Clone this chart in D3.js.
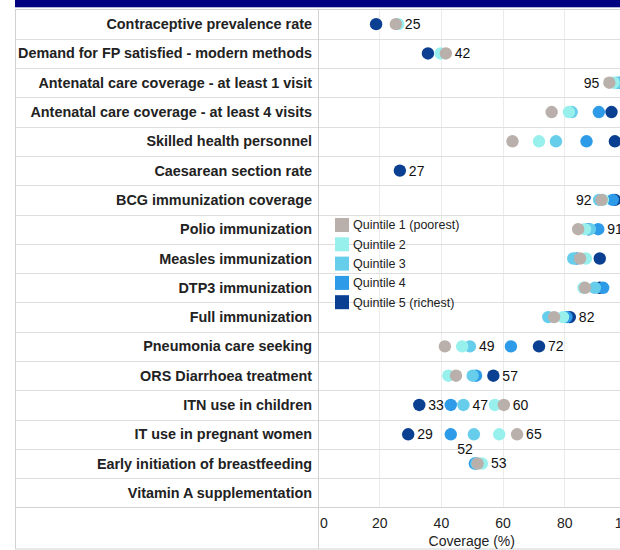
<!DOCTYPE html>
<html>
<head>
<meta charset="utf-8">
<script src="https://cdn.jsdelivr.net/npm/d3@7/dist/d3.min.js"></script>
<style>
html, body { margin: 0; padding: 0; background: #fff; overflow: hidden; }
svg { display: block; font-family: "Liberation Sans", Arial, Helvetica, sans-serif; }
</style>
</head>
<body>
<svg id="chart" width="660" height="550"></svg>
<script>
const indicators = [
  "Contraceptive prevalence rate",
  "Demand for FP satisfied - modern methods",
  "Antenatal care coverage - at least 1 visit",
  "Antenatal care coverage - at least 4 visits",
  "Skilled health personnel",
  "Caesarean section rate",
  "BCG immunization coverage",
  "Polio immunization",
  "Measles immunization",
  "DTP3 immunization",
  "Full immunization",
  "Pneumonia care seeking",
  "ORS Diarrhoea treatment",
  "ITN use in children",
  "IT use in pregnant women",
  "Early initiation of breastfeeding",
  "Vitamin A supplementation"
];
const seriesNames = ["Quintile 1 (poorest)", "Quintile 2", "Quintile 3", "Quintile 4", "Quintile 5 (richest)"];
const q1 = [25.4, 41.6, 94.6, 75.9, 63.2, null, 92.1, 84.5, 85.1, 86.7, 76.7, 41.3, 44.9, 60.4, 64.7, 51.9, null];
const q2 = [26.2, 39.9, 96.0, 81.5, 71.8, null, 92.5, 86.7, 87.0, 86.2, 79.6, 46.9, 42.4, 57.5, 58.9, 53.3, null];
const q3 = [null, null, 97.0, 82.4, 77.3, null, 91.3, 88.3, 82.9, 89.9, 74.8, 49.4, 50.3, 47.3, 50.7, 51.5, null];
const q4 = [null, null, 98.0, 91.2, 87.2, null, 95.7, 91.0, 84.0, 92.6, 80.7, 62.7, 51.4, 43.2, 43.2, 51.0, null];
const q5 = [19.0, 35.8, 99.0, 95.3, 96.4, 26.7, 96.4, 87.8, 91.5, 91.5, 81.8, 71.8, 57.0, 33.0, 29.4, null, null];
const xTicks = [0, 20, 40, 60, 80, 100];
const xTitle = "Coverage (%)";
// data labels: [indicator index, quintile index (0-4), placement]
const dataLabels = [
  [0, 0, "right"], [1, 0, "right"], [2, 0, "left"], [5, 4, "right"], [6, 0, "left"],
  [7, 3, "right"], [10, 4, "right"], [11, 2, "right"], [11, 4, "right"], [12, 4, "right"],
  [13, 4, "right"], [13, 2, "right"], [13, 0, "right"], [14, 4, "right"], [14, 0, "right"],
  [15, 0, "above"], [15, 1, "right"]
];
const colors = ["#bab0ab", "#98f0ed", "#66cdeb", "#2d9be8", "#0b3f92"];
const series = [q1, q2, q3, q4, q5];

const svg = d3.select("#chart");
const L = 15, colX = 318, tableTop = 9.5, rowsBottom = 507.5, tableBottom = 549, rightEdge = 660;

const x = d3.scaleLinear().domain([0, 100]).range([317.5, 626]);
const y = d3.scaleBand().domain(indicators).range([tableTop, rowsBottom]).padding(0);

// navy header bar
svg.append("rect").attr("x", L).attr("y", 0).attr("width", rightEdge - L).attr("height", 7.3).attr("fill", "#000080");

// vertical grid lines in plot
svg.append("g").selectAll("line").data(xTicks.slice(1)).join("line")
  .attr("x1", d => Math.round(x(d)) + 0.5).attr("x2", d => Math.round(x(d)) + 0.5)
  .attr("y1", tableTop).attr("y2", rowsBottom)
  .attr("stroke", "#ebebeb").attr("stroke-width", 1);

// row lines
svg.append("g").selectAll("line").data(indicators.slice(1)).join("line")
  .attr("x1", L).attr("x2", rightEdge)
  .attr("y1", d => Math.round(y(d)) + 0.5).attr("y2", d => Math.round(y(d)) + 0.5)
  .attr("stroke", "#dedede");

// table borders
const bc = "#d2d2d2";
svg.append("line").attr("x1", L).attr("x2", rightEdge).attr("y1", tableTop).attr("y2", tableTop).attr("stroke", bc);
svg.append("line").attr("x1", L).attr("x2", rightEdge).attr("y1", rowsBottom).attr("y2", rowsBottom).attr("stroke", bc);
svg.append("line").attr("x1", L).attr("x2", rightEdge).attr("y1", tableBottom).attr("y2", tableBottom).attr("stroke", bc);
svg.append("line").attr("x1", L + 0.5).attr("x2", L + 0.5).attr("y1", tableTop).attr("y2", tableBottom).attr("stroke", bc);
svg.append("line").attr("x1", colX + 0.5).attr("x2", colX + 0.5).attr("y1", tableTop).attr("y2", tableBottom).attr("stroke", bc);

// row labels
svg.append("g").selectAll("text").data(indicators).join("text")
  .attr("x", 312).attr("y", d => y(d) + y.bandwidth() / 2)
  .attr("dy", "0.35em").attr("text-anchor", "end")
  .attr("font-size", 14.4).attr("font-weight", "bold").attr("fill", "#222")
  .text(d => d);

// x axis
const axis = d3.axisBottom(x).tickValues(xTicks).tickSize(0).tickPadding(0);
const gx = svg.append("g").attr("transform", `translate(0,${rowsBottom})`).call(axis);
gx.select(".domain").remove();
gx.selectAll("text").attr("font-size", 14).attr("fill", "#222")
  .attr("y", 15.5).attr("dy", "0.35em");
gx.attr("font-family", null).attr("font-size", null);
gx.selectAll(".tick").filter(d => d === 0).select("text").attr("text-anchor", "start").attr("x", 2);

svg.append("text").attr("x", (x(0) + x(100)) / 2).attr("y", 541).attr("dy", "0.35em")
  .attr("text-anchor", "middle").attr("font-size", 14).attr("fill", "#222").text(xTitle);

// legend
const lg = svg.append("g").attr("transform", "translate(335,218)");
seriesNames.forEach((name, i) => {
  const g = lg.append("g").attr("transform", `translate(0,${i * 19.3})`);
  g.append("rect").attr("width", 14).attr("height", 14).attr("fill", colors[i]);
  g.append("text").attr("x", 18).attr("y", 7).attr("dy", "0.35em").attr("font-size", 12.5).attr("fill", "#222").text(name);
});

// dots: richest drawn first, poorest on top
const dotsG = svg.append("g");
for (let s = series.length - 1; s >= 0; s--) {
  const pts = series[s].map((v, i) => ({ v, ind: indicators[i] })).filter(d => d.v != null);
  dotsG.append("g").selectAll("circle").data(pts).join("circle")
    .attr("cx", d => x(d.v)).attr("cy", d => y(d.ind) + y.bandwidth() / 2)
    .attr("r", 6.2).attr("fill", colors[s]);
}

// data labels
svg.append("g").selectAll("text").data(dataLabels).join("text")
  .each(function (d) {
    const [ri, si, pos] = d;
    const v = series[si][ri];
    const cx = x(v), cy = y(indicators[ri]) + y.bandwidth() / 2;
    const t = d3.select(this).attr("font-size", 14).attr("fill", "#111").attr("dy", "0.35em").text(Math.round(v));
    if (pos === "right") t.attr("x", cx + 9).attr("y", cy).attr("text-anchor", "start");
    else if (pos === "left") t.attr("x", cx - 10).attr("y", cy).attr("text-anchor", "end");
    else t.attr("x", cx - 12.5).attr("y", cy - 14.5).attr("text-anchor", "middle");
  });
</script>
</body>
</html>
